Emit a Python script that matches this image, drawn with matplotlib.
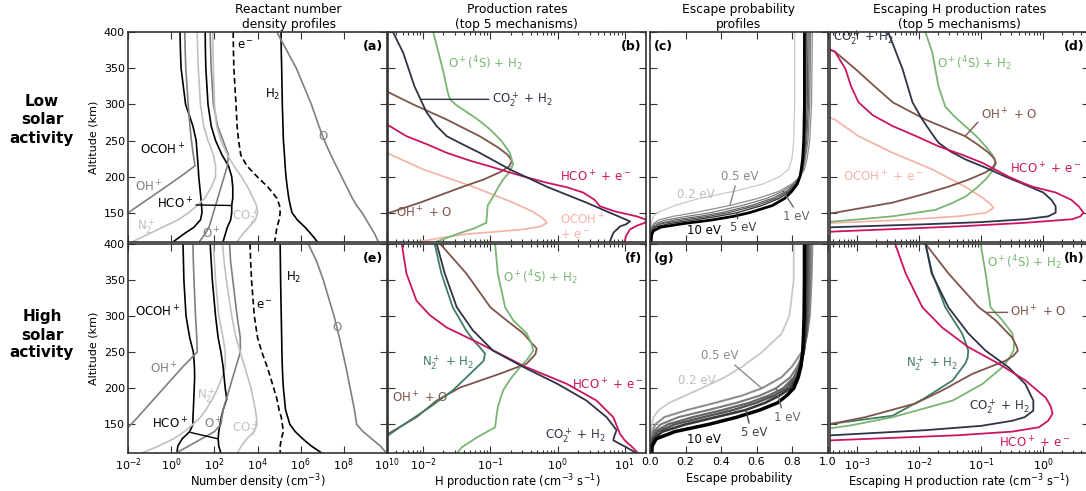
import numpy as np
import matplotlib
matplotlib.use("Agg")
import matplotlib.pyplot as plt
from matplotlib.ticker import FixedLocator, NullLocator

plt.rcParams['font.family'] = ['DejaVu Sans']
plt.rcParams['mathtext.fontset'] = 'dejavusans'
plt.rcParams['font.size'] = 8

# ---------------- DATA ----------------
# Panels (a)/(e): log10 number density (cm^-3) on a common altitude grid (km)
ALT_N = [400, 375, 350, 300, 270, 250, 230, 215, 200, 185, 170, 160, 150, 140, 130, 120, 110]

a_OCOH = [0.40, 0.42, 0.45, 0.66, 1.00, 1.15, 1.20, 1.24, 1.27, 1.32, 1.37, 1.40, 1.42, 1.35, 1.05, 0.55, 0.10]
a_OH   = [0.62, 0.64, 0.67, 0.78, 0.86, 0.93, 1.02, 1.10, 0.42, -0.30, -1.03, -1.52, -2.00, -2.50, -3.00, -3.50, -4.00]
a_N2   = [1.20, 1.22, 1.25, 1.35, 1.50, 1.70, 1.95, 2.05, 2.05, 1.85, 1.55, 1.20, 0.80, 0.30, -0.40, -1.10, -1.80]
a_HCO  = [1.57, 1.58, 1.60, 1.70, 1.85, 2.05, 2.35, 2.65, 2.80, 2.85, 2.85, 2.80, 2.80, 2.75, 2.60, 2.50, 2.40]
a_Op   = [1.80, 1.82, 1.85, 1.95, 2.15, 2.40, 2.65, 2.60, 2.45, 2.30, 2.15, 2.05, 1.95, 1.85, 1.75, 1.55, 1.30]
a_CO2  = [1.92, 1.93, 1.95, 2.00, 2.10, 2.30, 2.60, 2.90, 3.25, 3.55, 3.80, 3.95, 4.00, 3.90, 3.60, 3.30, 3.05]
a_e    = [2.87, 2.88, 2.90, 3.00, 3.05, 3.12, 3.22, 3.50, 3.98, 4.50, 4.90, 5.02, 5.05, 5.00, 4.90, 4.85, 4.80]
a_H2   = [5.09, 5.10, 5.12, 5.15, 5.18, 5.20, 5.25, 5.28, 5.32, 5.38, 5.45, 5.52, 5.60, 5.85, 6.20, 6.50, 6.77]
a_O    = [4.90, 5.35, 5.80, 6.50, 6.85, 7.10, 7.40, 7.65, 7.90, 8.15, 8.40, 8.60, 8.85, 9.05, 9.25, 9.45, 9.60]

e_OCOH = [0.54, 0.56, 0.58, 0.68, 0.85, 1.02, 1.07, 1.08, 1.06, 1.04, 1.02, 1.00, 1.00, 0.85, 0.50, 0.30, 0.25]
e_OH   = [1.00, 1.02, 1.05, 1.12, 1.18, 1.20, 0.54, 0.09, -0.36, -0.81, -1.26, -1.56, -1.87, -2.20, -2.50, -2.80, -3.10]
e_N2   = [1.95, 2.00, 2.05, 2.20, 2.40, 2.50, 2.50, 2.35, 2.15, 1.90, 1.60, 1.35, 1.00, 0.60, 0.10, -0.60, -1.40]
e_HCO  = [1.80, 1.85, 1.90, 2.05, 2.17, 2.30, 2.40, 2.45, 2.50, 2.57, 2.40, 2.32, 2.26, 2.20, 2.17, 2.20, 2.30]
e_Op   = [2.70, 2.75, 2.85, 3.05, 3.20, 3.20, 3.00, 2.85, 2.70, 2.55, 2.40, 2.35, 2.30, 2.00, 1.40, 0.80, 0.20]
e_CO2  = [2.37, 2.45, 2.55, 2.80, 3.00, 3.20, 3.40, 3.55, 3.70, 3.80, 3.90, 3.95, 3.97, 3.85, 3.50, 3.25, 3.05]
e_e    = [3.65, 3.68, 3.72, 3.85, 4.00, 4.20, 4.44, 4.60, 4.75, 4.90, 5.00, 5.10, 5.15, 5.20, 5.10, 5.05, 5.05]
e_H2   = [5.05, 5.06, 5.07, 5.10, 5.12, 5.13, 5.15, 5.17, 5.20, 5.25, 5.30, 5.40, 5.50, 5.75, 6.10, 6.50, 7.00]
e_O    = [6.35, 6.75, 7.05, 7.55, 7.80, 7.95, 8.10, 8.20, 8.30, 8.40, 8.50, 8.55, 8.60, 8.90, 9.30, 9.70, 10.00]

# Panel (b): log10 H production rate, low solar activity
b_O4S_alt  = [400, 349, 315, 307, 300, 293, 280, 265, 250, 233, 217, 206, 196, 184, 172, 160, 148, 136, 128, 122, 110]
b_O4S      = [-1.85, -1.71, -1.63, -1.60, -1.52, -1.41, -1.20, -1.00, -0.84, -0.71, -0.66, -0.72, -0.81, -0.89, -0.96, -1.04, -1.05, -1.06, -1.25, -1.45, -1.80]
b_CO2_alt  = [400, 372, 325, 307, 289, 270, 256, 245, 233, 210, 186, 164, 150, 142, 138, 134, 131, 122, 110]
b_CO2      = [-2.45, -2.30, -2.13, -2.04, -1.95, -1.80, -1.65, -1.42, -1.16, -0.71, -0.16, 0.43, 0.78, 0.98, 1.08, 1.02, 0.93, 0.83, 0.78]
b_OH_alt   = [330, 316, 300, 279, 256, 240, 230, 222, 214, 206, 196, 186, 164, 150, 140]
b_OH       = [-2.80, -2.50, -2.15, -1.65, -1.16, -0.88, -0.74, -0.68, -0.72, -0.86, -1.10, -1.41, -2.05, -2.50, -2.90]
b_HCO_alt  = [285, 270, 256, 245, 233, 222, 214, 206, 200, 192, 185, 178, 168, 159, 152, 145, 140, 136, 132, 127, 118, 110]
b_HCO      = [-2.80, -2.50, -2.25, -1.95, -1.65, -1.30, -1.00, -0.72, -0.50, -0.18, 0.15, 0.38, 0.55, 0.63, 0.85, 1.18, 1.33, 1.30, 1.18, 1.08, 1.02, 1.00]
b_OCOH_alt = [245, 231, 210, 186, 164, 152, 145, 140, 136, 131, 127, 123, 120, 115, 110]
b_OCOH     = [-2.80, -2.50, -2.00, -1.26, -0.66, -0.38, -0.26, -0.19, -0.16, -0.25, -0.51, -1.00, -1.40, -1.75, -2.05]

# Panel (d): log10 escaping H production rate, low solar activity
d_CO2_alt  = [400, 349, 303, 279, 260, 247, 235, 224, 212, 200, 189, 178, 168, 159, 150, 145, 141, 137, 134, 130, 127]
d_CO2      = [-2.50, -2.27, -2.11, -1.95, -1.80, -1.69, -1.50, -1.26, -0.92, -0.61, -0.30, 0.00, 0.13, 0.20, 0.20, 0.08, -0.29, -1.00, -1.90, -3.36, -4.00]
d_O4S_alt  = [400, 372, 325, 297, 283, 270, 256, 242, 230, 219, 208, 196, 184, 172, 163, 154, 145, 138, 134]
d_O4S      = [-1.90, -1.79, -1.69, -1.58, -1.43, -1.26, -1.08, -0.93, -0.82, -0.76, -0.82, -0.93, -1.08, -1.26, -1.48, -1.74, -2.43, -3.36, -4.00]
d_OH_alt   = [385, 373, 349, 325, 303, 279, 256, 244, 233, 225, 219, 212, 206, 196, 186, 175, 164, 150, 145]
d_OH       = [-3.70, -3.36, -3.03, -2.72, -2.43, -1.90, -1.26, -1.05, -0.88, -0.79, -0.77, -0.82, -0.93, -1.20, -1.53, -1.96, -2.43, -3.36, -3.80]
d_HCO_alt  = [385, 373, 349, 325, 303, 285, 270, 256, 242, 230, 219, 210, 200, 192, 186, 178, 168, 159, 150, 145, 141, 136, 131, 124, 120]
d_HCO      = [-3.70, -3.36, -3.19, -3.10, -2.98, -2.75, -2.43, -2.05, -1.69, -1.30, -0.98, -0.78, -0.56, -0.35, -0.17, 0.20, 0.45, 0.57, 0.65, 0.60, 0.47, -0.30, -1.37, -3.36, -4.00]
d_OCOH_alt = [290, 279, 256, 233, 210, 186, 172, 164, 157, 150, 145, 140, 136, 133]
d_OCOH     = [-3.70, -3.36, -2.98, -2.43, -1.79, -1.26, -1.00, -0.88, -0.80, -0.92, -1.37, -2.30, -3.36, -4.00]

# Panel (f): log10 H production rate, high solar activity
f_O4S_alt  = [400, 359, 312, 294, 276, 262, 252, 240, 229, 213, 197, 174, 146, 132, 118, 110]
f_O4S      = [-0.93, -0.89, -0.78, -0.66, -0.46, -0.39, -0.36, -0.45, -0.56, -0.70, -0.81, -0.89, -0.93, -1.20, -1.43, -1.50]
f_N2_alt   = [400, 359, 312, 280, 265, 257, 248, 238, 229, 213, 197, 174, 146, 135, 125]
f_N2       = [-1.83, -1.73, -1.56, -1.36, -1.24, -1.16, -1.08, -1.10, -1.20, -1.38, -1.56, -1.90, -2.35, -2.52, -2.80]
f_CO2_alt  = [400, 359, 312, 280, 252, 229, 206, 183, 160, 142, 135, 128, 118, 110]
f_CO2      = [-1.80, -1.68, -1.50, -1.26, -0.96, -0.50, 0.00, 0.43, 0.73, 0.88, 0.85, 0.83, 1.03, 1.18]
f_HCO_alt  = [400, 359, 321, 301, 284, 262, 231, 206, 183, 160, 137, 128, 118, 110]
f_HCO      = [-2.32, -2.25, -2.10, -1.90, -1.65, -1.16, -0.51, 0.14, 0.58, 0.83, 0.93, 1.00, 1.12, 1.20]
f_OH_alt   = [400, 359, 312, 294, 276, 262, 255, 247, 234, 220, 201, 183, 160, 137, 125]
f_OH       = [-1.75, -1.36, -1.00, -0.76, -0.51, -0.38, -0.31, -0.33, -0.46, -0.86, -1.45, -1.80, -2.10, -2.52, -2.80]

# Panel (h): log10 escaping H production rate, high solar activity
h_O4S_alt  = [400, 359, 312, 294, 276, 262, 252, 240, 229, 206, 183, 160, 149, 145, 140]
h_O4S      = [-1.01, -0.93, -0.85, -0.66, -0.50, -0.47, -0.48, -0.56, -0.66, -0.98, -1.46, -2.43, -3.08, -3.40, -4.00]
h_OH_alt   = [400, 359, 312, 305, 294, 270, 258, 252, 245, 238, 220, 197, 179, 160, 151, 145]
h_OH       = [-1.90, -1.53, -1.04, -0.93, -0.77, -0.50, -0.43, -0.41, -0.48, -0.61, -1.14, -1.63, -2.06, -2.87, -3.40, -4.00]
h_N2_alt   = [400, 359, 312, 276, 260, 252, 242, 234, 211, 187, 162, 151, 146]
h_N2       = [-1.90, -1.79, -1.58, -1.31, -1.24, -1.21, -1.22, -1.26, -1.46, -1.90, -2.43, -3.40, -4.00]
h_CO2_alt  = [400, 359, 312, 276, 252, 229, 206, 183, 169, 160, 155, 148, 142, 135, 131]
h_CO2      = [-1.90, -1.80, -1.53, -1.21, -0.93, -0.56, -0.29, -0.16, -0.16, -0.30, -0.50, -1.00, -1.90, -3.40, -4.00]
h_HCO_alt  = [400, 359, 312, 284, 257, 234, 211, 187, 175, 165, 155, 146, 140, 135, 128, 124]
h_HCO      = [-2.39, -2.22, -1.95, -1.63, -1.21, -0.72, -0.29, 0.04, 0.12, 0.15, 0.08, -0.07, -0.50, -1.37, -3.40, -4.00]

# Panels (c)/(g): escape probability for several energies
ENERGIES = ['0.2 eV', '0.5 eV', '1 eV', '2 eV', '3 eV', '5 eV', '10 eV']
ALT_C = [400, 300, 250, 225, 210, 200, 190, 180, 170, 160, 150, 145, 140, 135, 130, 125, 120, 115, 110]
c_02 = [0.815, 0.815, 0.81, 0.80, 0.78, 0.73, 0.64, 0.48, 0.28, 0.14, 0.04, 0.02, 0.012, 0.008, 0.006, 0.005, 0.004, 0.004, 0.003]
c_05 = [0.915, 0.91, 0.90, 0.885, 0.87, 0.845, 0.80, 0.73, 0.61, 0.45, 0.25, 0.13, 0.05, 0.02, 0.01, 0.007, 0.005, 0.004, 0.004]
c_1  = [0.905, 0.90, 0.89, 0.875, 0.863, 0.847, 0.81, 0.75, 0.66, 0.52, 0.34, 0.21, 0.09, 0.03, 0.012, 0.008, 0.006, 0.005, 0.004]
c_2  = [0.897, 0.893, 0.883, 0.872, 0.861, 0.846, 0.815, 0.77, 0.69, 0.57, 0.40, 0.28, 0.14, 0.05, 0.015, 0.009, 0.007, 0.006, 0.005]
c_3  = [0.89, 0.886, 0.878, 0.868, 0.858, 0.845, 0.82, 0.78, 0.71, 0.60, 0.44, 0.33, 0.19, 0.07, 0.02, 0.01, 0.008, 0.006, 0.005]
c_5  = [0.88, 0.878, 0.872, 0.865, 0.856, 0.845, 0.825, 0.79, 0.73, 0.63, 0.49, 0.38, 0.25, 0.11, 0.03, 0.012, 0.008, 0.007, 0.006]
c_10 = [0.87, 0.87, 0.866, 0.86, 0.852, 0.845, 0.83, 0.80, 0.76, 0.69, 0.56, 0.47, 0.35, 0.19, 0.06, 0.02, 0.01, 0.008, 0.007]

ALT_G = [400, 350, 300, 275, 250, 230, 215, 200, 190, 180, 170, 160, 150, 140, 130, 120, 110]
g_02 = [0.81, 0.81, 0.785, 0.74, 0.63, 0.52, 0.42, 0.29, 0.20, 0.11, 0.05, 0.02, 0.012, 0.008, 0.006, 0.005, 0.004]
g_05 = [0.915, 0.91, 0.90, 0.885, 0.855, 0.80, 0.74, 0.63, 0.52, 0.37, 0.21, 0.08, 0.03, 0.014, 0.009, 0.007, 0.006]
g_1  = [0.905, 0.902, 0.895, 0.885, 0.865, 0.83, 0.79, 0.71, 0.62, 0.49, 0.33, 0.16, 0.06, 0.02, 0.011, 0.008, 0.007]
g_2  = [0.897, 0.895, 0.89, 0.882, 0.867, 0.84, 0.81, 0.75, 0.67, 0.56, 0.41, 0.24, 0.10, 0.03, 0.013, 0.009, 0.008]
g_3  = [0.89, 0.888, 0.884, 0.878, 0.866, 0.845, 0.82, 0.77, 0.70, 0.60, 0.47, 0.30, 0.14, 0.045, 0.015, 0.01, 0.008]
g_5  = [0.88, 0.879, 0.877, 0.873, 0.865, 0.85, 0.83, 0.79, 0.73, 0.65, 0.54, 0.37, 0.20, 0.07, 0.02, 0.011, 0.009]
g_10 = [0.87, 0.87, 0.868, 0.865, 0.86, 0.85, 0.835, 0.81, 0.77, 0.72, 0.62, 0.49, 0.33, 0.14, 0.035, 0.012, 0.01]

# ---------------- STYLE ----------------
BLK, GRY, LGR = '#000000', '#7f7f7f', '#c0c0c0'
C_O4S, C_CO2, C_OH, C_HCO, C_OCOH, C_N2 = '#79b573', '#2e3347', '#7f544a', '#cc1560', '#f5b5aa', '#3f7d62'
E_COL = ['#c8c8c8', '#8f8f8f', '#7a7a7a', '#666666', '#555555', '#3a3a3a', '#000000']
E_LW_C = [0.9, 0.9, 0.9, 0.9, 0.9, 1.0, 2.0]
E_LW_G = [1.3, 1.5, 1.5, 1.6, 1.7, 1.9, 2.5]
LFS = 8.5
TFS = 8.8

W, H = 1086, 491
fig = plt.figure(figsize=(W / 100, H / 100), dpi=100)

cols = [(128.3, 386.8), (388.3, 645.5), (650.0, 827.5), (830.0, 1088.5)]
rows = [(32.2, 241.6), (243.7, 453.3)]


def make_ax(c, r):
    x0, x1 = cols[c]
    y0, y1 = rows[r]
    return fig.add_axes([x0 / W, 1 - y1 / H, (x1 - x0) / W, (y1 - y0) / H])


def style(ax, c, r):
    ax.set_ylim(110, 400)
    ax.yaxis.set_major_locator(FixedLocator([150, 200, 250, 300, 350, 400]))
    ax.yaxis.set_minor_locator(NullLocator())
    ax.tick_params(which='both', direction='in', top=True, right=True,
                   color='#333333', width=0.8, labelsize=8, pad=2.5)
    ax.tick_params(which='major', length=5)
    ax.tick_params(which='minor', length=2.5)
    ax.tick_params(labelleft=(c == 0), labelbottom=(r == 1))
    for s in ax.spines.values():
        s.set_linewidth(1.2)
        s.set_color('#333333')
    if c == 0:
        ax.set_ylabel('Altitude (km)', fontsize=8, labelpad=4)


def xlab(ax, s, pad=-0.5):
    ax.set_xlabel(s, fontsize=8.3, labelpad=pad)


def p10(v):
    return np.power(10.0, np.asarray(v, dtype=float))


def txt(ax, x, y, s, color, **kw):
    kw.setdefault('ha', 'left')
    kw.setdefault('va', 'center')
    ax.text(x, y, s, color=color, fontsize=LFS, **kw)


def leader(ax, s, xy, xyt, color, relpos=(0.5, 0.5), **kw):
    kw.setdefault('ha', 'left')
    kw.setdefault('va', 'center')
    ax.annotate(s, xy=xy, xytext=xyt, color=color, fontsize=LFS,
                arrowprops=dict(arrowstyle='-', color=color, lw=1.0,
                                shrinkA=0, shrinkB=0, relpos=relpos), **kw)


def panel_label(ax, s, left=False):
    if left:
        ax.text(0.02, 0.93, s, transform=ax.transAxes, ha='left', va='center',
                fontsize=9, fontweight='bold')
    else:
        ax.text(0.985, 0.93, s, transform=ax.transAxes, ha='right', va='center',
                fontsize=9, fontweight='bold')


# ---------------- density panels ----------------
def density_panel(ax, sp):
    OCOH, OH, N2, HCO, Op, CO2, ee, H2, O = sp
    ax.plot(p10(OCOH), ALT_N, color=BLK, lw=1.2)
    ax.plot(p10(OH), ALT_N, color=GRY, lw=1.2)
    ax.plot(p10(N2), ALT_N, color=LGR, lw=1.2)
    ax.plot(p10(HCO), ALT_N, color=BLK, lw=1.2)
    ax.plot(p10(Op), ALT_N, color=GRY, lw=1.2)
    ax.plot(p10(CO2), ALT_N, color=LGR, lw=1.2)
    ax.plot(p10(ee), ALT_N, color=BLK, lw=1.2, ls=(0, (3.5, 2)))
    ax.plot(p10(H2), ALT_N, color=BLK, lw=1.2)
    ax.plot(p10(O), ALT_N, color=GRY, lw=1.2)
    ax.set_xscale('log')
    ax.set_xlim(1e-2, 1e10)
    ax.xaxis.set_major_locator(FixedLocator([1e-2, 1e0, 1e2, 1e4, 1e6, 1e8, 1e10]))
    ax.xaxis.set_minor_locator(NullLocator())


ax_a = make_ax(0, 0)
density_panel(ax_a, (a_OCOH, a_OH, a_N2, a_HCO, a_Op, a_CO2, a_e, a_H2, a_O))
style(ax_a, 0, 0)
ax_a.set_title('Reactant number\ndensity profiles', fontsize=TFS, pad=3, x=0.62)
txt(ax_a, 10**3.05, 381, r'e$^-$', BLK)
txt(ax_a, 10**4.35, 314, r'H$_2$', BLK)
txt(ax_a, 10**7.06, 256, 'O', GRY, ha='center')
txt(ax_a, 10**-1.44, 237, r'OCOH$^+$', BLK)
txt(ax_a, 10**-1.67, 186, r'OH$^+$', GRY)
leader(ax_a, r'HCO$^+$', (p10(a_HCO[11]), ALT_N[11]), (10**-0.66, 162), BLK, relpos=(0.85, 0.45))
txt(ax_a, 10**-1.6, 131, r'N$_2^+$', LGR)
txt(ax_a, 10**1.43, 121, r'O$^+$', GRY)
txt(ax_a, 10**2.82, 145, r'CO$_2^+$', LGR)
panel_label(ax_a, '(a)')

ax_e = make_ax(0, 1)
density_panel(ax_e, (e_OCOH, e_OH, e_N2, e_HCO, e_Op, e_CO2, e_e, e_H2, e_O))
style(ax_e, 0, 1)
xlab(ax_e, r'Number density (cm$^{-3}$)')
txt(ax_e, 10**5.32, 353, r'H$_2$', BLK)
txt(ax_e, 10**3.93, 314, r'e$^-$', BLK)
txt(ax_e, 10**7.7, 284, 'O', GRY, ha='center')
txt(ax_e, 10**-1.67, 305, r'OCOH$^+$', BLK)
txt(ax_e, 10**-0.98, 227, r'OH$^+$', GRY)
txt(ax_e, 10**1.2, 190, r'N$_2^+$', LGR)
txt(ax_e, 10**1.52, 151, r'O$^+$', GRY)
txt(ax_e, 10**2.82, 144, r'CO$_2^+$', LGR)
leader(ax_e, r'HCO$^+$', (p10(e_HCO[14]), ALT_N[14]), (10**-0.9, 151), BLK, relpos=(0.75, 0.1))
panel_label(ax_e, '(e)')

# ---------------- production panels ----------------
ax_b = make_ax(1, 0)
ax_b.plot(p10(b_OCOH), b_OCOH_alt, color=C_OCOH, lw=1.3)
ax_b.plot(p10(b_OH), b_OH_alt, color=C_OH, lw=1.3)
ax_b.plot(p10(b_O4S), b_O4S_alt, color=C_O4S, lw=1.3)
ax_b.plot(p10(b_HCO), b_HCO_alt, color=C_HCO, lw=1.3)
ax_b.plot(p10(b_CO2), b_CO2_alt, color=C_CO2, lw=1.3)
ax_b.set_xscale('log')
ax_b.set_xlim(10**-2.52, 10**1.31)
style(ax_b, 1, 0)
ax_b.set_title('Production rates\n(top 5 mechanisms)', fontsize=TFS, pad=3)
txt(ax_b, 10**-1.63, 356, r'O$^+$($^4$S) + H$_2$', C_O4S)
leader(ax_b, r'CO$_2^+$ + H$_2$', (p10(b_CO2[3]), b_CO2_alt[3]), (10**-0.98, 307), C_CO2, relpos=(0, 0.5))
txt(ax_b, 10**0.03, 200, r'HCO$^+$ + e$^-$', C_HCO)
txt(ax_b, 10**-2.4, 150, r'OH$^+$ + O', C_OH)
txt(ax_b, 10**0.03, 131, 'OCOH$^+$\n+ e$^-$', C_OCOH, linespacing=1.0)
panel_label(ax_b, '(b)')

ax_f = make_ax(1, 1)
ax_f.plot(p10(f_OH), f_OH_alt, color=C_OH, lw=1.3)
ax_f.plot(p10(f_O4S), f_O4S_alt, color=C_O4S, lw=1.3)
ax_f.plot(p10(f_N2), f_N2_alt, color=C_N2, lw=1.3)
ax_f.plot(p10(f_HCO), f_HCO_alt, color=C_HCO, lw=1.3)
ax_f.plot(p10(f_CO2), f_CO2_alt, color=C_CO2, lw=1.3)
ax_f.set_xscale('log')
ax_f.set_xlim(10**-2.52, 10**1.31)
style(ax_f, 1, 1)
xlab(ax_f, r'H production rate (cm$^{-3}$ s$^{-1}$)')
txt(ax_f, 10**-0.81, 353, r'O$^+$($^4$S) + H$_2$', C_O4S)
txt(ax_f, 10**-2.02, 236, r'N$_2^+$ + H$_2$', C_N2)
txt(ax_f, 10**-2.47, 187, r'OH$^+$ + O', C_OH)
txt(ax_f, 10**0.21, 204, r'HCO$^+$ + e$^-$', C_HCO)
txt(ax_f, 10**-0.19, 135, r'CO$_2^+$ + H$_2$', C_CO2)
panel_label(ax_f, '(f)')

# ---------------- escape probability panels ----------------
C_SET = [c_02, c_05, c_1, c_2, c_3, c_5, c_10]
G_SET = [g_02, g_05, g_1, g_2, g_3, g_5, g_10]

ax_c = make_ax(2, 0)
for vals, col, lw in zip(C_SET, E_COL, E_LW_C):
    ax_c.plot(vals, ALT_C, color=col, lw=lw)
ax_c.set_xlim(0, 1)
ax_c.xaxis.set_major_locator(FixedLocator([0, 0.2, 0.4, 0.6, 0.8, 1.0]))
style(ax_c, 2, 0)
ax_c.set_title('Escape probability\nprofiles', fontsize=TFS, pad=3)
leader(ax_c, ENERGIES[1], (c_05[9], ALT_C[9]), (0.40, 200), '#8a8a8a', relpos=(0.4, 0.0))
txt(ax_c, 0.15, 175, ENERGIES[0], '#bdbdbd')
leader(ax_c, ENERGIES[2], (c_1[7], ALT_C[7]), (0.75, 145), '#666666', relpos=(0.45, 1.0))
leader(ax_c, ENERGIES[5], (c_5[10], ALT_C[10]), (0.45, 129), '#444444', relpos=(0.3, 1.0))
txt(ax_c, 0.21, 125, ENERGIES[6], BLK)
panel_label(ax_c, '(c)', left=True)

ax_g = make_ax(2, 1)
for vals, col, lw in zip(G_SET, E_COL, E_LW_G):
    ax_g.plot(vals, ALT_G, color=col, lw=lw)
ax_g.set_xlim(0, 1)
ax_g.xaxis.set_major_locator(FixedLocator([0, 0.2, 0.4, 0.6, 0.8, 1.0]))
style(ax_g, 2, 1)
xlab(ax_g, 'Escape probability', pad=3.5)
leader(ax_g, ENERGIES[1], (g_05[7], ALT_G[7]), (0.29, 245), '#8a8a8a', relpos=(0.8, 0.0))
txt(ax_g, 0.16, 211, ENERGIES[0], '#bdbdbd')
leader(ax_g, ENERGIES[2], (g_1[7], ALT_G[7]), (0.70, 160), '#666666', relpos=(0.3, 1.0))
leader(ax_g, ENERGIES[5], (g_5[10], ALT_G[10]), (0.51, 139), '#444444', relpos=(0.35, 1.0))
txt(ax_g, 0.21, 129, ENERGIES[6], BLK)
panel_label(ax_g, '(g)', left=True)

# ---------------- escaping production panels ----------------
ax_d = make_ax(3, 0)
ax_d.plot(p10(d_OCOH), d_OCOH_alt, color=C_OCOH, lw=1.3)
ax_d.plot(p10(d_O4S), d_O4S_alt, color=C_O4S, lw=1.3)
ax_d.plot(p10(d_OH), d_OH_alt, color=C_OH, lw=1.3)
ax_d.plot(p10(d_CO2), d_CO2_alt, color=C_CO2, lw=1.3)
ax_d.plot(p10(d_HCO), d_HCO_alt, color=C_HCO, lw=1.3)
ax_d.set_xscale('log')
ax_d.set_xlim(10**-3.44, 10**0.73)
style(ax_d, 3, 0)
ax_d.set_title('Escaping H production rates\n(top 5 mechanisms)', fontsize=TFS, pad=3)
txt(ax_d, 10**-3.39, 393, r'CO$_2^+$ + H$_2$', C_CO2)
txt(ax_d, 10**-1.71, 356, r'O$^+$($^4$S) + H$_2$', C_O4S)
leader(ax_d, r'OH$^+$ + O', (p10(d_OH[6]), d_OH_alt[6]), (10**-1.01, 286), C_OH, relpos=(0.0, 0.2))
txt(ax_d, 10**-0.53, 210, r'HCO$^+$ + e$^-$', C_HCO)
txt(ax_d, 10**-3.23, 200, r'OCOH$^+$ + e$^-$', C_OCOH)
panel_label(ax_d, '(d)')

ax_h = make_ax(3, 1)
ax_h.plot(p10(h_N2), h_N2_alt, color=C_N2, lw=1.3)
ax_h.plot(p10(h_O4S), h_O4S_alt, color=C_O4S, lw=1.3)
ax_h.plot(p10(h_OH), h_OH_alt, color=C_OH, lw=1.3)
ax_h.plot(p10(h_CO2), h_CO2_alt, color=C_CO2, lw=1.3)
ax_h.plot(p10(h_HCO), h_HCO_alt, color=C_HCO, lw=1.3)
ax_h.set_xscale('log')
ax_h.set_xlim(10**-3.44, 10**0.73)
style(ax_h, 3, 1)
xlab(ax_h, r'Escaping H production rate (cm$^{-3}$ s$^{-1}$)')
txt(ax_h, 10**-0.9, 374, r'O$^+$($^4$S) + H$_2$', C_O4S)
leader(ax_h, r'OH$^+$ + O', (p10(h_OH[3]), h_OH_alt[3]), (10**-0.53, 305), C_OH, relpos=(0.0, 0.5))
txt(ax_h, 10**-2.22, 234, r'N$_2^+$ + H$_2$', C_N2)
txt(ax_h, 10**-1.2, 174, r'CO$_2^+$ + H$_2$', C_CO2)
txt(ax_h, 10**-0.72, 125, r'HCO$^+$ + e$^-$', C_HCO)
panel_label(ax_h, '(h)')

# ---------------- row labels ----------------
fig.text(42 / W, 1 - 120 / H, 'Low\nsolar\nactivity', ha='center', va='center',
         fontsize=11, fontweight='bold', linespacing=1.25)
fig.text(42 / W, 1 - 335 / H, 'High\nsolar\nactivity', ha='center', va='center',
         fontsize=11, fontweight='bold', linespacing=1.25)

fig.savefig('out.png', dpi=100)
